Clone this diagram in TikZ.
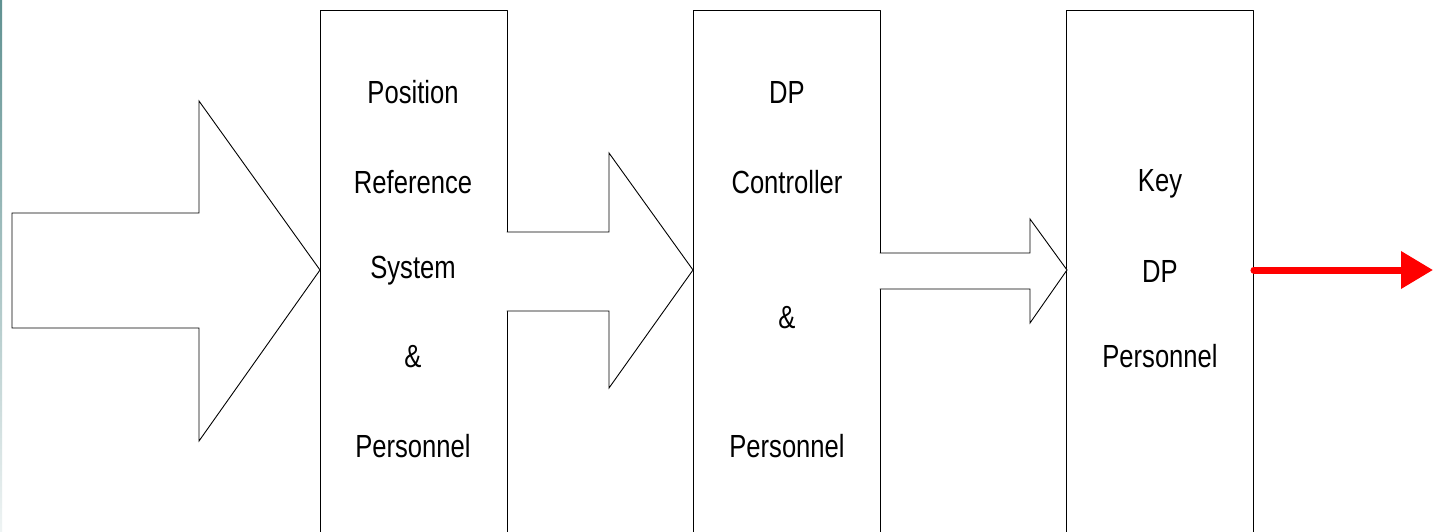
\documentclass[tikz,border=0pt]{standalone}
\usepackage{fontspec}
\setmainfont{Liberation Sans}[FakeStretch=0.8]
\usetikzlibrary{arrows.meta}
\definecolor{edgeteal}{RGB}{95,145,145}
\tikzset{
  box/.style={draw,line width=0.9pt,minimum width=187pt,minimum height=560pt,inner sep=0pt},
  word/.style={font=\fontsize{32}{38}\selectfont,inner sep=0pt,anchor=center},
  blockarrow/.style={draw,line width=0.9pt,line join=miter,fill=white}
}
\begin{document}
\begin{tikzpicture}[x=1pt,y=-1pt,line cap=round,line join=round]
\useasboundingbox (0,0) rectangle (1433,532);
\clip (0,0) rectangle (1433,532);
\fill[white] (0,0) rectangle (1433,532);
\shade[top color=edgeteal,bottom color=edgeteal!10] (0,0) rectangle (2.2,532);
% boxes
\node[box] (prs) at (413.5,290) {};
\node[box] (dpc) at (786.5,290) {};
\node[box] (key) at (1160,290) {};
% block arrows
\draw[blockarrow] (12,213) -- (199,213) -- (199,101) -- (320,270) -- (199,441) -- (199,328) -- (12,328) -- cycle;
\draw[blockarrow] (507,232) -- (609,232) -- (609,153) -- (693,270) -- (609,388) -- (609,311) -- (507,311);
\draw[blockarrow] (880,253) -- (1030,253) -- (1030,219) -- (1067,270) -- (1030,323) -- (1030,289) -- (880,289);
% texts
\node[word] (prs1) at (413,92) {Position};
\node[word] (prs2) at (413,182) {Reference};
\node[word] (prs3) at (413,271) {System};
\node[word] (prs4) at (413,357) {\&};
\node[word] (prs5) at (413,446) {Personnel};
\node[word] (dpc1) at (787,92) {DP};
\node[word] (dpc2) at (787,182) {Controller};
\node[word] (dpc3) at (787,318) {\&};
\node[word] (dpc4) at (787,446) {Personnel};
\node[word] (key1) at (1160,184) {Key};
\node[word] (key2) at (1160,271) {DP};
\node[word] (key3) at (1160,356) {Personnel};
% output
\coordinate (out) at (1433,270);
\draw[red,line width=7pt,-{Triangle[length=32pt,width=36pt]}] (key.east |- out) -- (out);
\end{tikzpicture}
\end{document}
